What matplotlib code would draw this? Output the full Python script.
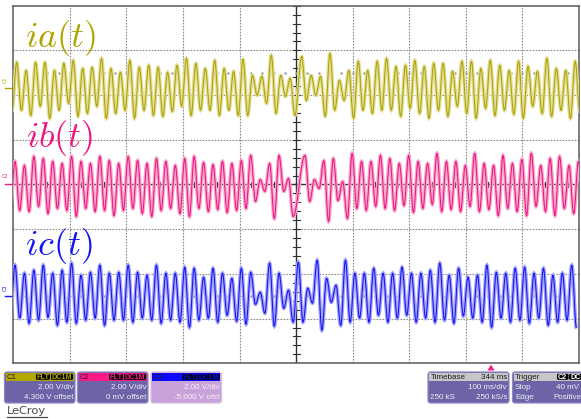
import numpy as np
import matplotlib
matplotlib.use("Agg")
import matplotlib.pyplot as plt
from matplotlib.patches import FancyBboxPatch, Rectangle, Polygon, PathPatch
from matplotlib.path import Path
from matplotlib.transforms import blended_transform_factory

plt.rcParams['mathtext.fontset'] = 'cm'

# ---------------- data ----------------
period_ms = 16.67                     # 60 Hz carrier
volts_per_div = 2.0
offsets_v = {"ia": 4.3, "ib": 0.0, "ic": -5.0}
first_peak_left_ms = {"ia": 6.0, "ib": 3.0, "ic": 3.0}
first_peak_right_ms = {"ia": 509.8, "ib": 515.6, "ic": 503.8}
start_v = {"ia": -1.0, "ib": -1.1, "ic": -1.0}

ia_peaks = [1.16, 0.80, 1.16, 1.16, 0.80, 1.12, 1.25, 0.89, 0.94, 1.34, 0.89, 0.72, 1.25, 0.94, 1.03, 0.94, 0.72, 1.03, 1.34, 1.12,
            0.89, 1.25, 0.89, 0.76, 1.30, 0.58, 0.54, 1.48, 0.58, 0.45,
            1.43, 0.58, 0.54, 1.56, 0.36, 0.80, 1.21, 0.80, 1.21, 1.34, 0.98, 1.03, 1.25, 0.98, 1.12,
            1.12, 0.76, 1.21, 1.21, 0.89, 1.25, 1.03, 0.80, 1.21, 0.98, 0.76, 1.34, 0.89, 0.80, 1.21]
ia_troughs = [-0.98, -1.21, -0.80, -1.34, -0.98, -0.67, -1.25, -1.12, -0.80, -1.34, -1.12, -0.98, -1.34, -0.98, -1.21, -1.25, -1.03, -0.80, -1.21, -0.98,
              -0.98, -1.21, -0.98, -1.21, -1.21, -0.31, -0.67, -1.12, -0.36, -1.21,
              -0.54, -0.31, -1.25, -0.98, -0.54, -1.34, -0.98, -1.12, -0.98, -0.98,
              -1.25, -0.89, -1.12, -1.34, -0.98, -1.25, -0.80, -1.12, -1.34, -0.89, -1.21, -0.98, -1.16, -1.34, -0.80, -1.12, -1.25, -0.98, -1.34, -1.07]

ib_peaks = [1.03, 0.85, 1.25, 1.16, 1.03, 0.94, 1.25, 1.03, 0.94, 1.25, 1.07, 0.94, 1.25, 1.07, 0.94, 1.16, 1.03, 0.85, 1.16, 1.25,
            0.98, 0.89, 1.03, 0.94, 1.07, 1.30, 0.22, 0.94, 1.30, 0.27,
            1.30, 0.22, 1.07, 1.16, 0.13, 1.39, 1.03, 1.03, 1.30, 1.16, 0.94, 1.30, 1.03, 0.94, 1.39, 1.03,
            1.03, 0.85, 1.39, 0.94, 0.85, 1.30, 0.94, 1.12, 1.39, 0.85, 1.16, 1.25, 0.85, 1.03]
ib_troughs = [-1.16, -1.21, -0.98, -1.30, -1.07, -1.16, -1.43, -1.07, -1.21, -1.16, -1.39, -1.16, -1.07, -1.30, -1.43, -1.16, -1.07, -1.30, -1.43, -1.07,
              -1.21, -1.12, -1.25, -1.16, -1.07, -0.76, -0.31, -1.52, -0.31, -1.43,
              -0.76, -0.18, -1.65, -0.72, -1.52, -1.07, -1.16, -0.98, -1.07, -1.16, -0.94, -1.25, -1.07, -0.89, -1.21, -1.12,
              -1.21, -0.98, -1.21, -1.12, -1.39, -1.07, -1.21, -1.39, -0.98, -1.21, -1.39, -1.07, -1.30, -1.43]

ic_peaks = [1.39, 1.03, 1.16, 1.39, 1.03, 1.16, 1.48, 0.94, 1.07, 1.39, 1.03, 1.07, 1.39, 1.07, 0.94, 1.39, 1.03, 1.03, 1.30, 1.25,
            0.85, 1.25, 1.03, 0.80, 1.25, 1.07, 0.18, 1.48, 1.03, 0.27,
            1.52, 0.36, 1.61, 0.80, 0.49, 1.61, 1.03, 1.03, 1.25, 1.03, 1.03, 1.30, 1.03, 1.03, 1.16,
            1.48, 0.94, 1.25, 0.85, 0.94, 1.39, 1.07, 1.03, 1.25, 1.30, 1.03, 1.25, 0.94, 1.03, 1.39]
ic_troughs = [-0.98, -1.21, -1.07, -0.94, -1.30, -1.16, -1.21, -1.07, -0.98, -1.30, -1.07, -1.07, -1.16, -0.98, -1.07, -1.21, -1.07, -1.16, -1.39, -1.07,
              -0.98, -1.16, -0.85, -1.12, -1.25, -0.36, -0.76, -1.34, -0.54, -1.16,
              -1.16, -0.31, -1.52, -0.27, -1.30, -1.16, -0.98, -1.16, -0.85, -1.16, -0.98, -0.85, -1.16, -0.98, -1.16,
              -1.07, -1.21, -0.89, -0.98, -1.16, -1.39, -0.98, -1.16, -1.07, -1.21, -0.98, -1.30, -1.16, -1.07, -1.43]

series = {"ia": (ia_peaks, ia_troughs), "ib": (ib_peaks, ib_troughs), "ic": (ic_peaks, ic_troughs)}
labels = {"ia": r"$ia(t)$", "ib": r"$ib(t)$", "ic": r"$ic(t)$"}
channel_names = {"ia": "C1", "ib": "C2", "ic": "C3"}

dark = {"ia": "#aea400", "ib": "#ee1680", "ic": "#1414f5"}
light = {"ia": "#e2de9a", "ib": "#f8a6cc", "ic": "#a2a2fa"}

# ---------------- figure ----------------
W, H = 581, 419
fig = plt.figure(figsize=(W / 100, H / 100), dpi=100)
fig.patch.set_facecolor("white")
L, R, T, B = 13.3, 579.0, 5.7, 363.3
ax = fig.add_axes([L / W, 1 - B / H, (R - L) / W, (B - T) / H])
ax.set_xlim(0, 1000)
ax.set_ylim(-4, 4)
ax.set_xticks([]); ax.set_yticks([])
for s in ax.spines.values():
    s.set_color("#5a5a5a"); s.set_linewidth(1.1)

# grid
for gx in range(100, 1000, 100):
    if gx == 500:
        continue
    ax.axvline(gx, color="#8a8a8a", lw=0.8, ls=(0, (1.5, 1.2)), zorder=1)
for gy in range(-3, 4):
    if gy == 0:
        continue
    ax.axhline(gy, color="#8a8a8a", lw=0.8, ls=(0, (1.5, 1.2)), zorder=1)
ax.axvline(500, color="#303030", lw=1.0, zorder=1)
ax.axhline(0, color="#303030", lw=1.0, zorder=1)
for ty in np.arange(-4, 4.01, 0.2):
    ax.plot([494, 506], [ty, ty], color="#303030", lw=0.8, zorder=1)
for tx in np.arange(0, 1001, 20):
    ax.plot([tx, tx], [-0.06, 0.06], color="#303030", lw=0.8, zorder=1)
for yy in (2.5, -2.5):
    ax.plot(np.arange(20, 1000, 20), np.full(49, yy), ls="none", marker="s",
            ms=0.7, color="#9a9a9a", zorder=1)


def smooth_path(ts, ys):
    """Cubic Bezier segments between consecutive extrema (horizontal tangents)."""
    verts = [(ts[0], ys[0])]
    codes = [Path.MOVETO]
    for i in range(1, len(ts)):
        d = 0.36 * (ts[i] - ts[i - 1])
        verts += [(ts[i - 1] + d, ys[i - 1]), (ts[i] - d, ys[i]), (ts[i], ys[i])]
        codes += [Path.CURVE4] * 3
    return Path(verts, codes)


# traces
bt = blended_transform_factory(ax.transAxes, ax.transData)
for key, (pk, tr) in series.items():
    ts, vs = [first_peak_left_ms[key] - period_ms / 2], [start_v[key]]
    for half, first in ((0, first_peak_left_ms[key]), (1, first_peak_right_ms[key])):
        for j in range(30):
            k = 30 * half + j
            ts += [first + j * period_ms, first + (j + 0.5) * period_ms]
            vs += [pk[k], tr[k]]
    ys = (np.array(vs) + offsets_v[key]) / volts_per_div
    p = smooth_path(ts, ys)
    ax.add_patch(PathPatch(p, fill=False, ec=light[key], lw=2.6, zorder=3))
    ax.add_patch(PathPatch(p, fill=False, ec=dark[key], lw=0.75, zorder=4))
    # ground marker on the left edge
    yc = offsets_v[key] / volts_per_div
    ax.plot([-0.0145, 0], [yc, yc], transform=bt, color=dark[key], lw=1.0, clip_on=False)
    rot = 0 if key == "ib" else 90
    ax.text(-0.014, yc + 0.12, channel_names[key], transform=bt, fontsize=3.6, color=dark[key],
            ha="center", va="bottom", rotation=rot, clip_on=False)

# ---------------- overlay (labels and status boxes) ----------------
ov = fig.add_axes([0, 0, 1, 1], zorder=10)
ov.set_xlim(0, W); ov.set_ylim(H, 0)
ov.axis("off")
ov.patch.set_visible(False)

label_pos = {"ia": (25, 38), "ib": (26, 138), "ic": (25, 246)}
for key, (lx, ly) in label_pos.items():
    ov.text(lx, ly, labels[key], color=dark[key], fontsize=26, ha="left", va="center")

FONT = "Liberation Sans"
body_purple = "#6c64a6"
txt_light = "#eeeef6"


def status_box(x0, w, header, body, edge, y0=372.0, h=31.0):
    ov.add_patch(FancyBboxPatch((x0, y0), w, h, boxstyle="round,pad=0,rounding_size=2.5",
                                fc=body, ec=edge, lw=0.9))
    ov.add_patch(Rectangle((x0 + 1.2, y0 + 1.2), w - 2.4, 7.6, fc=header, ec="none"))


def tag(x0, x1, text, tcol):
    ov.add_patch(FancyBboxPatch((x0, 373.8), x1 - x0, 6.0, boxstyle="round,pad=0,rounding_size=1.2",
                                fc="black", ec="none"))
    ov.text((x0 + x1) / 2, 377.2, text, fontsize=5.2, family=FONT, color=tcol, ha="center",
            va="center", fontweight="bold")


chan_boxes = [
    (4.5, "C1", "#b3a800", body_purple, "#8e88c4", "2.00 V/div", "4.300 V offset", txt_light),
    (77.5, "C2", "#ff1a8a", body_purple, "#8e88c4", "2.00 V/div", "0 mV offset", txt_light),
    (151.0, "C3", "#0a0aff", "#c8a3da", "#d8bfe6", "2.00 V/div", "-5.000 V ofst", "#f6f0fa"),
]
for x0, name, hc, bc, ec, l1, l2, tc in chan_boxes:
    w = 70.5
    status_box(x0, w, hc, bc, ec)
    ov.text(x0 + 2.5, 377.0, name, fontsize=5.6, family=FONT, color="#202020", va="center")
    tag(x0 + 31.5, x0 + 45.5, "FLT", hc)
    tag(x0 + 46.5, x0 + 68.5, "DC1M", hc)
    ov.text(x0 + w - 1.8, 387.6, l1, fontsize=5.8, family=FONT, color=tc, ha="right", va="center")
    ov.text(x0 + w - 1.8, 397.8, l2, fontsize=5.8, family=FONT, color=tc, ha="right", va="center")

# timebase
status_box(428.0, 81.0, "#c6c6c6", body_purple, "#8e88c4")
ov.text(430.5, 377.0, "Timebase", fontsize=5.8, family=FONT, color="#202020", va="center")
ov.text(507.0, 377.0, "344 ms", fontsize=5.8, family=FONT, color="#202020", va="center", ha="right")
ov.text(507.0, 387.6, "100 ms/div", fontsize=5.8, family=FONT, color=txt_light, va="center", ha="right")
ov.text(430.5, 397.8, "250 kS", fontsize=5.8, family=FONT, color=txt_light, va="center")
ov.text(507.0, 397.8, "250 kS/s", fontsize=5.8, family=FONT, color=txt_light, va="center", ha="right")

# trigger
status_box(512.5, 80.0, "#c6c6c6", body_purple, "#8e88c4")
ov.text(515.0, 377.0, "Trigger", fontsize=5.8, family=FONT, color="#202020", va="center")
tag(557.0, 568.5, "C2", "#ffffff")
tag(569.0, 583.0, "DC", "#ffffff")
ov.text(515.0, 387.6, "Stop", fontsize=5.8, family=FONT, color=txt_light, va="center")
ov.text(579.5, 387.6, "40 mV", fontsize=5.8, family=FONT, color=txt_light, va="center", ha="right")
ov.text(515.0, 397.8, "Edge", fontsize=5.8, family=FONT, color=txt_light, va="center")
ov.text(581.5, 397.8, "Positive", fontsize=5.8, family=FONT, color=txt_light, va="center", ha="right")

# trigger position marker
ov.add_patch(Polygon([[487.5, 370.5], [494.5, 370.5], [491.0, 364.5]], closed=True, fc="#ff1a8a", ec="none"))

# LeCroy logo text
ov.text(7, 411, "LeCroy", fontsize=8.2, color="#4a4a4a", va="center", ha="left")
ov.plot([7, 47], [417.3, 417.3], color="#4a4a4a", lw=0.9)

fig.savefig("out.png", dpi=100, facecolor="white")
